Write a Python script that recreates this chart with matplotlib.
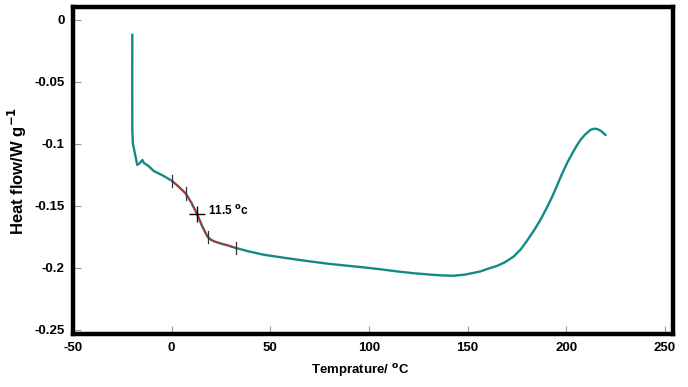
import matplotlib
matplotlib.use("Agg")
import matplotlib.pyplot as plt
import numpy as np

plt.rcParams['font.family'] = ['Liberation Sans', 'DejaVu Sans']

# DSC curve (temperature in °C, heat flow in W/g)
temp = [-19.9, -19.95, -19.9, -19.6, -18.7, -17.4, -16.1, -14.8, -14.0, -12.0,
        -9.0, -4.5, 0.3, 3.5, 7.1, 10.0, 13.0, 15.5, 18.2, 20.0, 22.0, 25.0, 28.5, 32.4,
        39.0, 46.6, 55.0, 63.7, 72.0, 80.5, 89.0, 97.3, 106.0, 114.3, 123.0, 131.2,
        137.0, 142.9, 149.0, 156.5, 160.0, 165.0, 169.0, 173.3, 177.0, 180.2, 184.0,
        187.0, 190.0, 192.9, 195.5, 197.9, 200.5, 203.0, 205.0, 207.2, 209.5,
        212.3, 214.0, 215.6, 217.5, 219.8]
heat = [-0.012, -0.050, -0.0887, -0.100, -0.107, -0.117, -0.1156, -0.113, -0.1155, -0.1175,
        -0.122, -0.1255, -0.130, -0.1345, -0.140, -0.1475, -0.157, -0.1665, -0.175, -0.1775, -0.1790, -0.1805, -0.1820, -0.1840,
        -0.1868, -0.1895, -0.1915, -0.1935, -0.1953, -0.1970, -0.1984, -0.1997, -0.2013, -0.2030, -0.2045, -0.2056,
        -0.2062, -0.2065, -0.2055, -0.2030, -0.2010, -0.1985, -0.1955, -0.1910, -0.1850, -0.1780, -0.1690,
        -0.1610, -0.1520, -0.1425, -0.1330, -0.1240, -0.1152, -0.1078, -0.1022, -0.0968, -0.0925,
        -0.0887, -0.0878, -0.0880, -0.0895, -0.0927]

# glass transition analysis
tg_range = [0.3, 32.4]
tick_temps = [0.3, 7.1, 18.2, 32.4]
tg_point_temp = 13.0
tg_label = '11.5 $^{\\mathbf{o}}$c'

x = np.array(temp)
y = np.array(heat)

fig = plt.figure(figsize=(6.88, 3.87), dpi=100)
ax = fig.add_axes([0.106, 0.137, 0.872, 0.845])

ax.plot(x, y, color='#138a87', lw=1.7, zorder=2, solid_joinstyle='round')

mask = (x >= tg_range[0]) & (x <= tg_range[1])
ax.plot(x[mask], y[mask], color='#d42020', lw=1.0, zorder=3)

for t in tick_temps:
    yy = np.interp(t, x[12:], y[12:])
    ax.plot([t, t], [yy - 0.005, yy + 0.005], color='#333333', lw=0.9, zorder=4)

tg_y = np.interp(tg_point_temp, x[12:], y[12:])
ax.plot([tg_point_temp], [tg_y], marker='+', ms=11, mew=1.0, color='black', zorder=5)
ax.text(tg_point_temp + 5.5, tg_y + 0.0030, tg_label, fontsize=8.5, fontweight='bold',
        ha='left', va='center')

ax.set_xlim(-50, 254)
ax.set_ylim(-0.2535, 0.0105)
ax.set_xticks([-50, 0, 50, 100, 150, 200, 250])
ax.set_xticklabels(['-50', '0', '50', '100', '150', '200', '250'])
ax.set_yticks([0, -0.05, -0.1, -0.15, -0.2, -0.25])
ax.set_yticklabels(['0', '-0.05', '-0.1', '-0.15', '-0.2', '-0.25'])

ax.tick_params(direction='in', length=6, width=0.8, color='#999999', labelsize=9.5, pad=6)
for lab in ax.get_xticklabels() + ax.get_yticklabels():
    lab.set_fontweight('bold')

for sp in ax.spines.values():
    sp.set_linewidth(3.2)
    sp.set_color('black')

ax.set_ylabel('Heat flow/W g$^{\\mathbf{-1}}$', fontsize=12, fontweight='bold', labelpad=4)
ax.set_xlabel('Temprature/ $^{\\mathbf{o}}$C', fontsize=9.5, fontweight='bold', labelpad=6)
ax.xaxis.set_label_coords(0.478, -0.085)

fig.savefig('out.png', dpi=100)
